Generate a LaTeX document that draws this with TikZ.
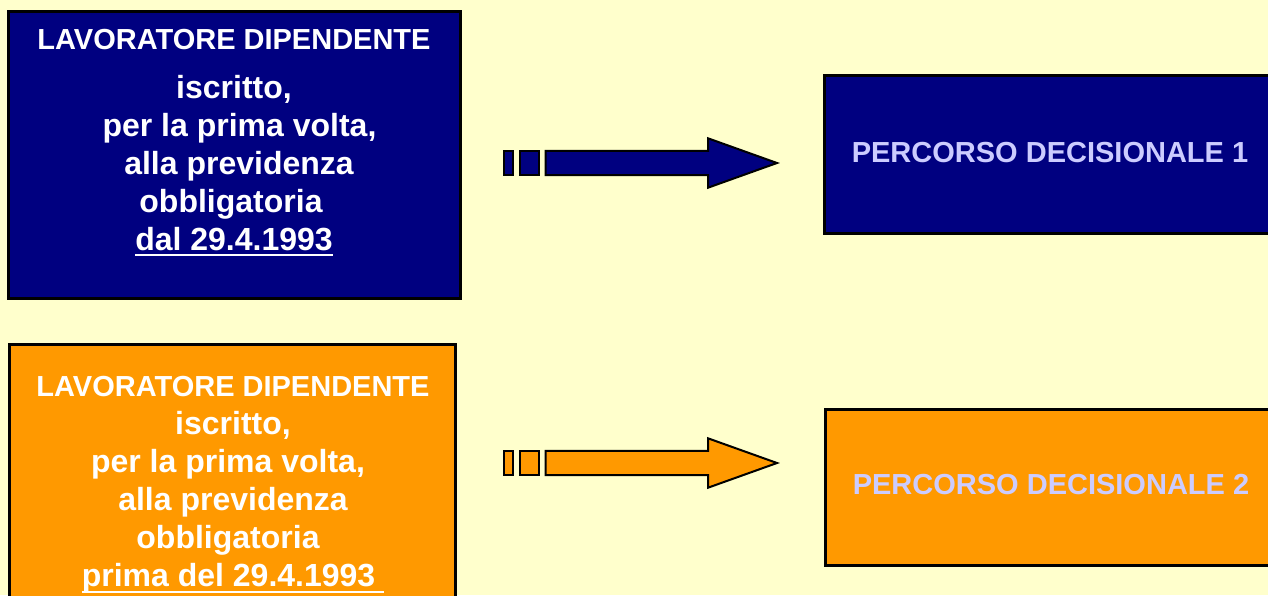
\documentclass[tikz,border=0pt]{standalone}
\usepackage{fontspec}
\setmainfont{Liberation Sans}
\definecolor{bgyellow}{HTML}{FFFFCC}
\definecolor{navyblue}{HTML}{000080}
\definecolor{orangebox}{HTML}{FF9900}
\definecolor{lavender}{HTML}{CCCCFF}
\newcommand\ulbox[1]{\setbox0\hbox{#1}\rlap{\rule[-6pt]{\wd0}{2pt}}\box0}
\newcommand\padsp[1]{\rule{#1}{0pt}}
\begin{document}
\begin{tikzpicture}[x=1pt,y=-1pt,
  box/.style={draw=black, line width=3pt, rectangle, inner sep=0pt, outer sep=0pt},
  lefttext/.style={text=white, font=\bfseries\fontsize{32}{38}\selectfont, align=center, inner sep=0pt, anchor=north},
  righttext/.style={text=lavender, font=\bfseries\fontsize{29}{35}\selectfont, inner sep=0pt, anchor=base},
  blockarrow/.style={draw=black, line width=2pt, line join=miter}]
\fill[bgyellow] (0,0) rectangle (1268,595);
\useasboundingbox (0,0) rectangle (1268,595);
\clip (0,0) rectangle (1268,595);

% boxes
\node (lbox1) [box, fill=navyblue, minimum width=452pt, minimum height=287pt] at (234.5,155) {};
\node (lbox2) [box, fill=orangebox, minimum width=446pt, minimum height=266pt] at (232.5,477.5) {};
\node (rbox1) [box, fill=navyblue, minimum width=466pt, minimum height=158pt] at (1057.5,154.5) {};
\node (rbox2) [box, fill=orangebox, minimum width=466pt, minimum height=156pt] at (1058.5,487.5) {};

% texts
\node (t1) [lefttext] at (234,29.5) {{\fontsize{29}{38}\selectfont LAVORATORE DIPENDENTE}\\[10.5pt]
iscritto,\\ \padsp{11pt}per la prima volta,\\ \padsp{10pt}alla previdenza\\ obbligatoria\padsp{6pt}\\ \ulbox{dal 29.4.1993}};
\node (t2) [lefttext] at (233,376.5) {{\fontsize{29}{38}\selectfont LAVORATORE DIPENDENTE}\\
iscritto,\\ per la prima volta,\padsp{10pt}\\ alla previdenza\\ obbligatoria\padsp{10pt}\\ \ulbox{prima del 29.4.1993\ }};
\node (p1) [righttext] at (1050,162) {PERCORSO DECISIONALE 1};
\node (p2) [righttext] at (1051,494) {PERCORSO DECISIONALE 2};

% block arrows
\coordinate (a1) at (504,163);
\coordinate (a2) at (504,463);
\foreach \c/\col in {a1/navyblue, a2/orangebox}{
  \begin{scope}[shift={(\c)}]
    \draw[blockarrow, fill=\col] (0,-12.15) rectangle (9,12.15);
    \draw[blockarrow, fill=\col] (16.4,-12.15) rectangle (35,12.15);
    \draw[blockarrow, fill=\col] (41.7,-12.15) -- (204,-12.15) -- (204,-24.7) -- (273,0) -- (204,24.7) -- (204,12.15) -- (41.7,12.15) -- cycle;
  \end{scope}
}
\end{tikzpicture}
\end{document}
